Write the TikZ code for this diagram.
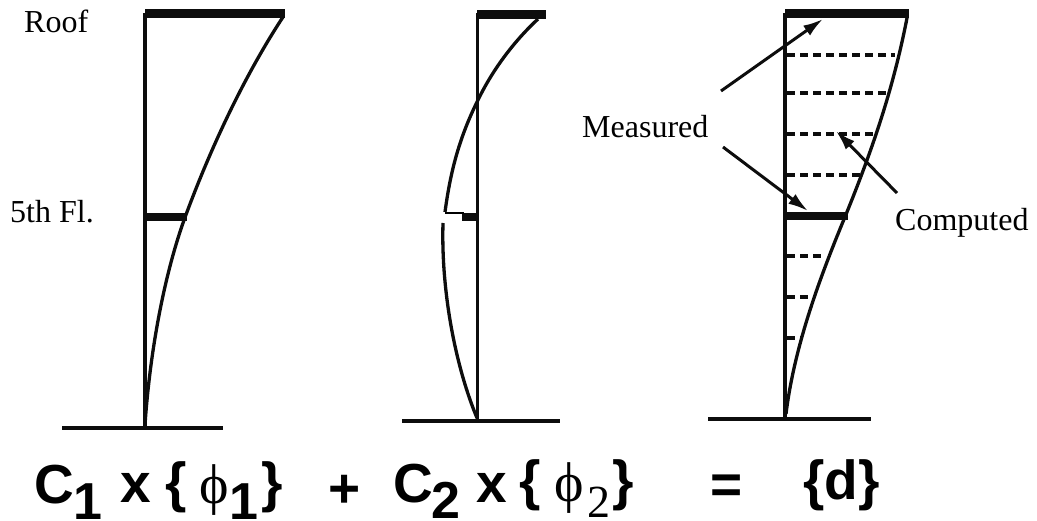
\documentclass[tikz,border=0pt]{standalone}
\usepackage{fontspec}
\setmainfont{Liberation Serif}
\setsansfont{Liberation Sans}
\usetikzlibrary{arrows.meta}
\newfontfamily\phifont{Liberation Serif}
\tikzset{
 x=1pt,y=-1pt,
 column/.style={line width=3.8pt,black!95},
 barthick/.style={line width=9pt,black!95},
 barmid/.style={line width=8pt,black!95},
 basebar/.style={line width=4.6pt,black!95},
 shape curve/.style={line width=3.3pt,black!95,line join=round},
 dashline/.style={line width=3.2pt,black!95,dash pattern=on 8pt off 5pt},
 pointer/.style={line width=3pt,black!95,-{Latex[length=20pt,width=12pt]}},
 lab/.style={inner sep=0pt,anchor=base west,font=\fontsize{32}{32}\selectfont},
 big/.style={inner sep=0pt,anchor=base west,font=\sffamily\bfseries\fontsize{55}{55}\selectfont},
 sub/.style={inner sep=0pt,anchor=base west,font=\sffamily\bfseries\fontsize{52}{52}\selectfont},
 phi/.style={inner sep=0pt,anchor=base west,font=\phifont\fontsize{56}{56}\selectfont},
}
\begin{document}
\begin{tikzpicture}
\useasboundingbox (0,0) rectangle (1037,521);
% left
\draw[column] (145,13) -- (145,427);
\draw[barthick] (145,14) -- (285,14);
\draw[barmid] (145,217) -- (187,217);
\draw[basebar] (62,428) -- (223,428);
\draw[shape curve] (145,425) .. controls (150,350) and (165,270) .. (187,212) .. controls (212,145) and (245,75) .. (283,17);
% middle
\draw[column] (477.5,13) -- (477.5,420);
\draw[barthick] (477,15) -- (546,15);
\draw[barmid] (462,217) -- (477,217);
\draw[line width=1.8pt] (445,213) -- (464,213);
\draw[basebar] (402,421) -- (560,421);
\draw[shape curve] (538,19) .. controls (510,45) and (490,75) .. (478,100) .. controls (458,140) and (450,175) .. (445,212);
\draw[shape curve] (443,223) .. controls (441,290) and (455,365) .. (477,418);
% right
\draw[column] (785,13) -- (785,418);
\draw[barthick] (785,14) -- (909,14);
\draw[barmid] (785,216) -- (848,216);
\draw[basebar] (708,419) -- (871,419);
\draw[shape curve] (786,414) .. controls (795,340) and (825,265) .. (847,212) .. controls (872,150) and (893,90) .. (907,18);
\draw[dashline] (787,55) -- (895,55);
\draw[dashline] (787,93) -- (887,93);
\draw[dashline] (787,134) -- (875,134);
\draw[dashline] (787,175) -- (860,175);
\draw[dashline] (787,256) -- (823,256);
\draw[dashline] (787,297) -- (808,297);
\draw[dashline] (787,338) -- (802,338);
% arrows
\coordinate (m1s) at (721,91); \coordinate (m1e) at (823,19);
\coordinate (m2s) at (723,147); \coordinate (m2e) at (808,211);
\coordinate (c1s) at (897,193); \coordinate (c1e) at (836,131);
\draw[pointer] (m1s) -- (m1e);
\draw[pointer] (m2s) -- (m2e);
\draw[pointer] (c1s) -- (c1e);
% labels
\node[lab] (roof) at (24,33) {Roof};
\node[lab] (fifth) at (10,223) {5th Fl.};
\node[lab] (meas) at (582,138) {Measured};
\node[lab] (comp) at (895,231) {Computed};
% equation
\node[big] (c1) at (34,503) {C};
\node[sub] (n1) at (73,519) {1};
\node[big] (x1) at (120,502) {x};
\node[big] (lb1) at (165,501) {\{};
\node[phi] (p1) at (199,503) {ϕ};
\node[sub] (n1b) at (229,519) {1};
\node[big] (rb1) at (261,501) {\}};
\node[big] (plus) at (328,507) {+};
\node[big] (c2) at (393,502) {C};
\node[sub] (n2) at (431,518) {2};
\node[big] (x2) at (476,502) {x};
\node[big] (lb2) at (519,499) {\{};
\node[phi] (p2) at (554,501) {ϕ};
\node[inner sep=0pt,anchor=base west,font=\fontsize{46}{46}\selectfont] (n2b) at (587,517) {2};
\node[big] (rb2) at (612,499) {\}};
\node[big] (eq) at (710,503) {=};
\node[big] (d) at (803,499) {\{d\}};
\end{tikzpicture}
\end{document}
